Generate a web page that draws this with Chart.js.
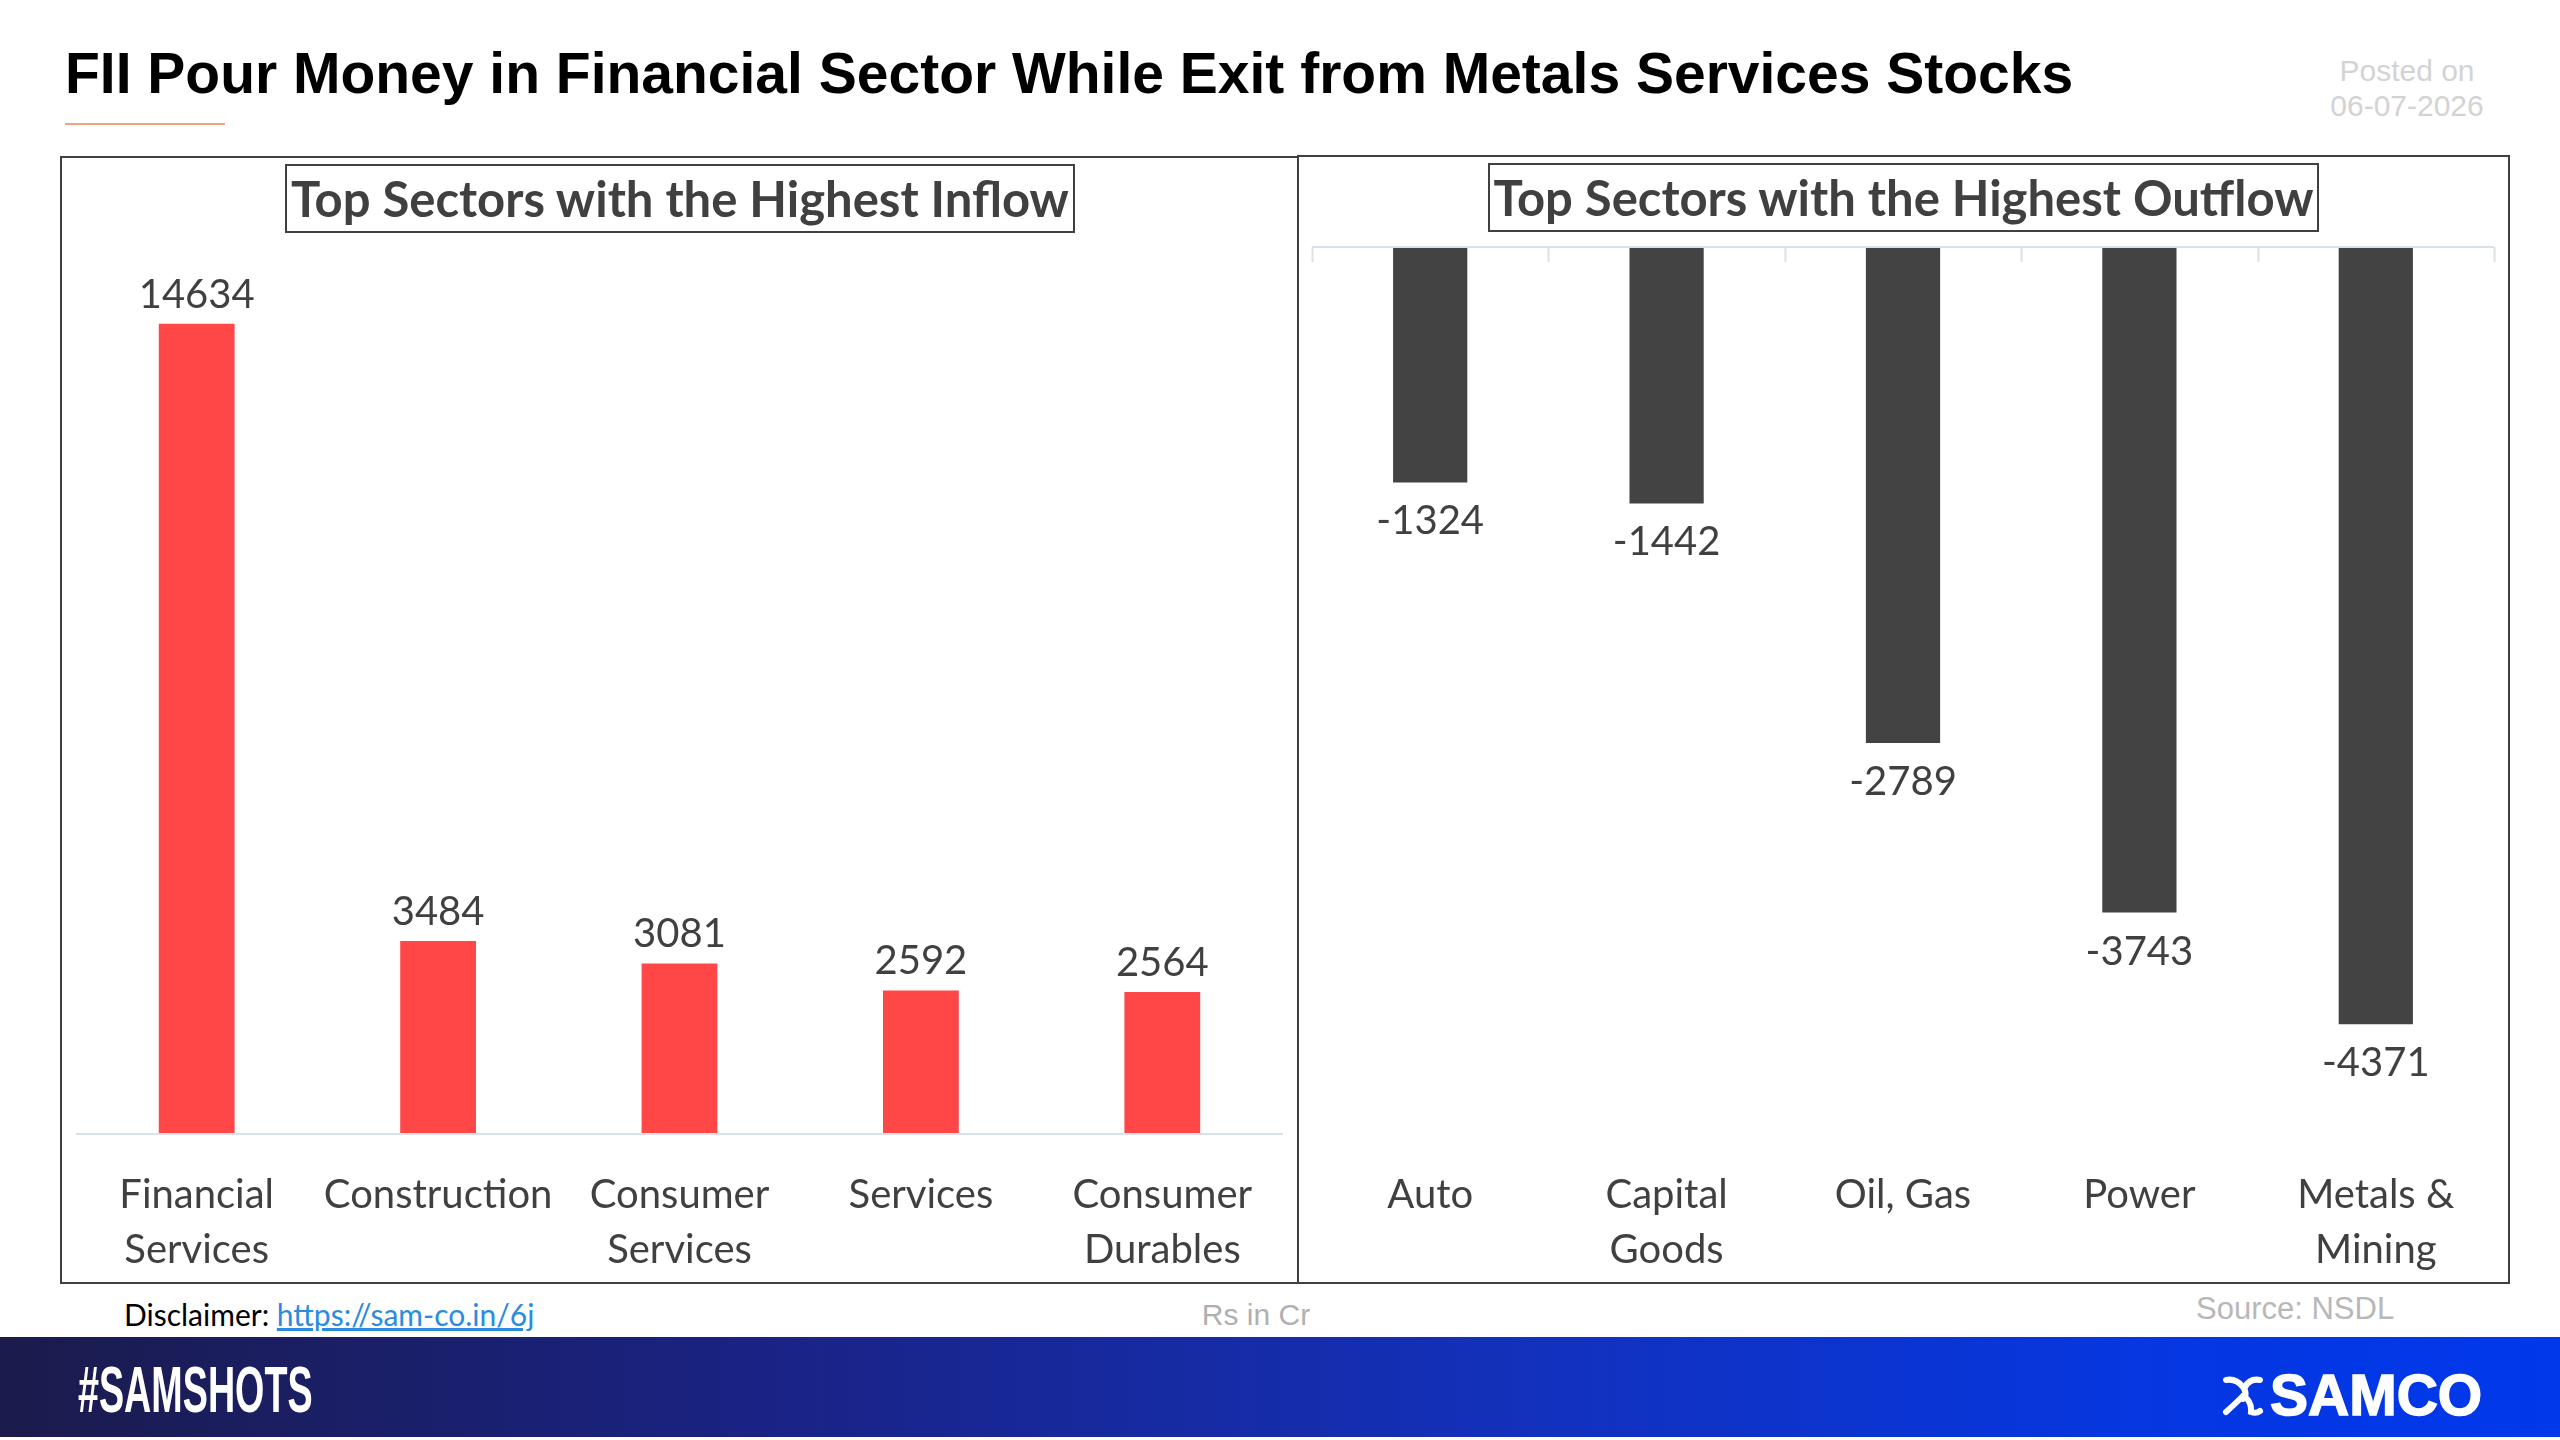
<!DOCTYPE html>
<html>
<head>
<meta charset="utf-8">
<script src="https://cdn.jsdelivr.net/npm/chart.js@4.4.1/dist/chart.umd.min.js"></script>
<style>
html,body{margin:0;padding:0;background:#fff;}
body{width:2560px;height:1440px;position:relative;overflow:hidden;font-family:'Liberation Sans',Arial,sans-serif;}
.abs{position:absolute;}
#title{left:65px;top:45px;font-size:57px;line-height:57px;font-weight:bold;color:#000;white-space:nowrap;}
#accent{left:65px;top:123px;width:160px;height:2px;background:#f2a488;}
#posted{left:2300px;top:53px;width:214px;text-align:center;color:#d3d3d3;font-size:30px;line-height:35px;}
.panel{box-sizing:border-box;border:2px solid #404040;background:#fff;}
.ptitle{box-sizing:border-box;border:2px solid #404040;background:#fff;display:flex;align-items:center;justify-content:center;font-family:Lato,sans-serif;font-weight:bold;font-size:49px;line-height:1;color:#404040;white-space:nowrap;z-index:5;}
canvas{position:absolute;z-index:3;}
#disc{left:124px;top:1299px;font-family:Lato,sans-serif;font-size:30px;line-height:1;color:#000;white-space:nowrap;}
#disc a{color:#2a8be0;text-decoration:underline;}
#unit{left:1156px;top:1300px;width:200px;text-align:center;font-size:30px;line-height:1;color:#b0b0b0;}
#source{left:2196px;top:1293px;font-size:31px;line-height:1;color:#b8b8b8;white-space:nowrap;}
#band{left:0;top:1337px;width:2560px;height:100px;background:linear-gradient(90deg,#1b1b4c 0%,#1a2385 30%,#1331bd 60%,#0537e2 85%,#0038ea 100%);}
#tag{left:78px;top:1357px;font-size:65px;line-height:1;font-weight:bold;color:#fff;transform:scaleX(0.58);transform-origin:0 0;white-space:nowrap;z-index:2;}
#logo{left:2270px;top:1367px;font-size:57px;line-height:1;font-weight:bold;color:#fff;-webkit-text-stroke:1.5px #fff;white-space:nowrap;z-index:2;}
#icon{left:2222px;top:1375px;width:42px;height:42px;z-index:2;}
</style>
</head>
<body>
<div id="title" class="abs">FII Pour Money in Financial Sector While Exit from Metals Services Stocks</div>
<div id="accent" class="abs"></div>
<div id="posted" class="abs">Posted on<br>06-07-2026</div>

<div class="abs panel" style="left:60px;top:156px;width:1239px;height:1128px;"></div>
<div class="abs panel" style="left:1297px;top:155px;width:1213px;height:1129px;"></div>
<div class="abs ptitle" style="left:285px;top:164px;width:790px;height:69px;">Top Sectors with the Highest Inflow</div>
<div class="abs ptitle" style="left:1488px;top:163px;width:831px;height:69px;">Top Sectors with the Highest Outflow</div>

<canvas id="inflow" width="1234" height="1080" style="left:62px;top:200px;"></canvas>
<canvas id="outflow" width="1208" height="1080" style="left:1299px;top:200px;"></canvas>

<div id="disc" class="abs">Disclaimer: <a>https://sam-co.in/6j</a></div>
<div id="unit" class="abs">Rs in Cr</div>
<div id="source" class="abs">Source: NSDL</div>

<div id="band" class="abs"></div>
<div id="tag" class="abs">#SAMSHOTS</div>
<svg id="icon" class="abs" viewBox="0 0 42 42">
  <g fill="none" stroke="#fff" stroke-width="6" stroke-linecap="round">
    <path d="M4 5 Q14 3 21 12 Q26 19 21 24"/>
    <path d="M38 5 Q28 3 23 12"/>
    <path d="M21 21 Q14 28 4 37"/>
    <path d="M21 21 Q30 26 29 37 Q34 39 38 36"/>
  </g>
</svg>
<div id="logo" class="abs">SAMCO</div>

<script>
// ---- data ----
const inflowCategories = [['Financial','Services'],['Construction'],['Consumer','Services'],['Services'],['Consumer','Durables']];
const inflowValues = [14634, 3484, 3081, 2592, 2564];
const outflowCategories = [['Auto'],['Capital','Goods'],['Oil, Gas'],['Power'],['Metals &','Mining']];
const outflowValues = [-1324, -1442, -2789, -3743, -4371];
const inflowRange = [0, 16000];
const outflowRange = [-5000, 0];

const LABEL_COLOR = '#404040';
const AXIS_COLOR = '#d9e2e9';

const valueLabels = {
  id: 'valueLabels',
  afterDatasetsDraw(chart) {
    const ctx = chart.ctx;
    const meta = chart.getDatasetMeta(0);
    const data = chart.data.datasets[0].data;
    ctx.save();
    ctx.font = '40px Lato';
    ctx.fillStyle = LABEL_COLOR;
    ctx.textAlign = 'center';
    ctx.textBaseline = 'alphabetic';
    meta.data.forEach((bar, i) => {
      const v = data[i];
      const y = v >= 0 ? bar.y - 16 : bar.y + 52;
      ctx.fillText(String(v), bar.x, y);
    });
    ctx.restore();
  }
};

const topTicks = {
  id: 'topTicks',
  afterDraw(chart) {
    if (!chart.options.plugins.topTicks || !chart.options.plugins.topTicks.show) return;
    const ctx = chart.ctx;
    const xs = chart.scales.x;
    const y0 = chart.scales.y.getPixelForValue(0);
    const n = chart.data.labels.length;
    const half = (xs.getPixelForValue(1) - xs.getPixelForValue(0)) / 2;
    ctx.save();
    ctx.strokeStyle = AXIS_COLOR;
    ctx.lineWidth = 2;
    for (let i = 0; i <= n; i++) {
      const px = i < n ? xs.getPixelForValue(i) - half : xs.getPixelForValue(n - 1) + half;
      ctx.beginPath();
      ctx.moveTo(Math.round(px) + 0.5, y0);
      ctx.lineTo(Math.round(px) + 0.5, y0 + 15);
      ctx.stroke();
    }
    ctx.restore();
  }
};

function makeChart(id, labels, values, range, color, pad, axisH, tickPad, ticksOn) {
  return new Chart(document.getElementById(id), {
    type: 'bar',
    data: {
      labels: labels,
      datasets: [{ data: values, backgroundColor: color, borderWidth: 0, barPercentage: 0.314, categoryPercentage: 1 }]
    },
    options: {
      responsive: false,
      animation: false,
      devicePixelRatio: 1,
      layout: { padding: pad },
      plugins: { legend: { display: false }, tooltip: { enabled: false }, title: { display: false }, topTicks: { show: ticksOn } },
      scales: {
        x: {
          grid: { display: false, drawTicks: false },
          border: { display: false },
          ticks: { color: LABEL_COLOR, font: { family: 'Lato', size: 40, lineHeight: 1.375 }, padding: tickPad, maxRotation: 0, autoSkip: false },
          afterFit(s) { s.height = axisH; }
        },
        y: {
          min: range[0], max: range[1],
          ticks: { display: false },
          border: { display: false },
          grid: { drawTicks: false, lineWidth: 2, color: c => (c.tick && c.tick.value === 0) ? AXIS_COLOR : 'rgba(0,0,0,0)' }
        }
      }
    },
    plugins: [valueLabels, topTicks]
  });
}

makeChart('inflow', inflowCategories, inflowValues, inflowRange, '#ff4747', { left: 14, right: 13, top: 48, bottom: 0 }, 146, 34, false);
makeChart('outflow', outflowCategories, outflowValues, outflowRange, '#434343', { left: 13, right: 13, top: 47, bottom: 0 }, 144, 32, true);
</script>
</body>
</html>
